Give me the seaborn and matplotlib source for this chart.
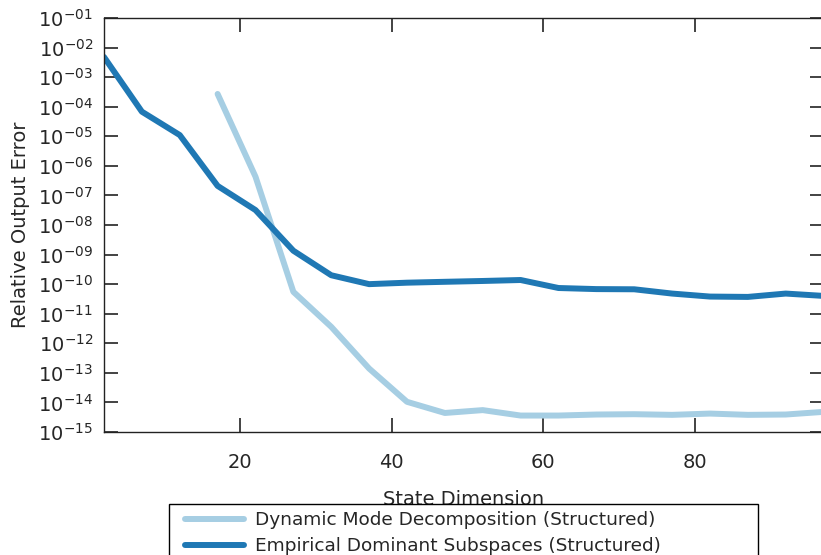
import numpy as np
import pandas as pd
import matplotlib
matplotlib.use("Agg")
import matplotlib.pyplot as plt
import seaborn as sns
from matplotlib.ticker import FixedLocator, FixedFormatter
from matplotlib.lines import Line2D
from matplotlib.legend_handler import HandlerLine2D

# ---- data ----
dims_eds = [2, 7, 12, 17, 22, 27, 32, 37, 42, 47, 52, 57, 62, 67, 72, 77, 82, 87, 92, 97]
err_eds = [4.8e-3, 6.8e-5, 1.1e-5, 2.1e-7, 3.2e-8, 1.35e-9, 2.0e-10, 1.0e-10, 1.12e-10,
           1.2e-10, 1.28e-10, 1.38e-10, 7.4e-11, 6.8e-11, 6.7e-11, 4.8e-11, 3.8e-11,
           3.7e-11, 4.8e-11, 4.0e-11]
dims_dmd = [17, 22, 27, 32, 37, 42, 47, 52, 57, 62, 67, 72, 77, 82, 87, 92, 97]
err_dmd = [2.7e-4, 4.3e-7, 5.5e-11, 3.6e-12, 1.4e-13, 1.05e-14, 4.4e-15, 5.5e-15, 3.6e-15,
           3.6e-15, 3.9e-15, 4.0e-15, 3.8e-15, 4.2e-15, 3.8e-15, 3.9e-15, 4.8e-15]
label_dmd = "Dynamic Mode Decomposition (Structured)"
label_eds = "Empirical Dominant Subspaces (Structured)"
ytick_exps = list(range(-15, 0))
xticks = [20, 40, 60, 80]

df = pd.concat([
    pd.DataFrame({"dim": dims_dmd, "err": err_dmd, "method": label_dmd}),
    pd.DataFrame({"dim": dims_eds, "err": err_eds, "method": label_eds}),
], ignore_index=True)

sns.set_theme(style="white")
plt.rcParams['font.family'] = ['DejaVu Sans']

W, H = 821, 555
fig = plt.figure(figsize=(W / 100, H / 100), dpi=100)
left, right, top, bottom = 104, 823.6, 18, 432
ax = fig.add_axes([left / W, 1 - bottom / H, (right - left) / W, (bottom - top) / H])

pal = sns.color_palette("Paired")[:2]
sns.lineplot(data=df, x="dim", y="err", hue="method", palette=pal,
             hue_order=[label_dmd, label_eds], linewidth=4.3, ax=ax,
             estimator=None)

ax.set_yscale("log")
ax.set_xlim(2, 97)
ax.set_ylim(1e-15, 1e-1)
yt = [10.0 ** e for e in ytick_exps]
ax.yaxis.set_major_locator(FixedLocator(yt))
ax.yaxis.set_major_formatter(FixedFormatter([r"$10^{-%02d}$" % (-e) for e in ytick_exps]))
ax.yaxis.set_minor_locator(FixedLocator([]))
ax.set_xticks(xticks)

ax.tick_params(axis="both", which="major", direction="in", length=10, width=1.2,
               color="#222222", labelsize=14, labelcolor="#262626",
               top=True, right=True, left=True, bottom=True, pad=8)
ax.tick_params(axis="x", pad=15)
for s in ax.spines.values():
    s.set_color("#222222")
    s.set_linewidth(1.0)

ax.set_xlabel("State Dimension", fontsize=14, color="#262626", labelpad=13)
ax.set_ylabel("Relative Output Error", fontsize=14, color="#262626", labelpad=6)

axw = right - left
axh = bottom - top
x0 = (169 - left) / axw
wleg = (758 - 169) / axw
ytop = (bottom - 504) / axh

handles, labels = ax.get_legend_handles_labels()
leg = ax.legend(handles, labels, loc="upper left",
                bbox_to_anchor=(x0, ytop, wleg, 0), mode="expand",
                fontsize=13.3, frameon=True,
                fancybox=False, framealpha=1, edgecolor="black",
                handlelength=3.7, handletextpad=0.6, labelspacing=0.45,
                borderpad=0.38, borderaxespad=0, title=None,
                handler_map={Line2D: HandlerLine2D(xpad=0.5)})
leg.get_frame().set_linewidth(1.0)

fig.savefig("out.png", dpi=100)
